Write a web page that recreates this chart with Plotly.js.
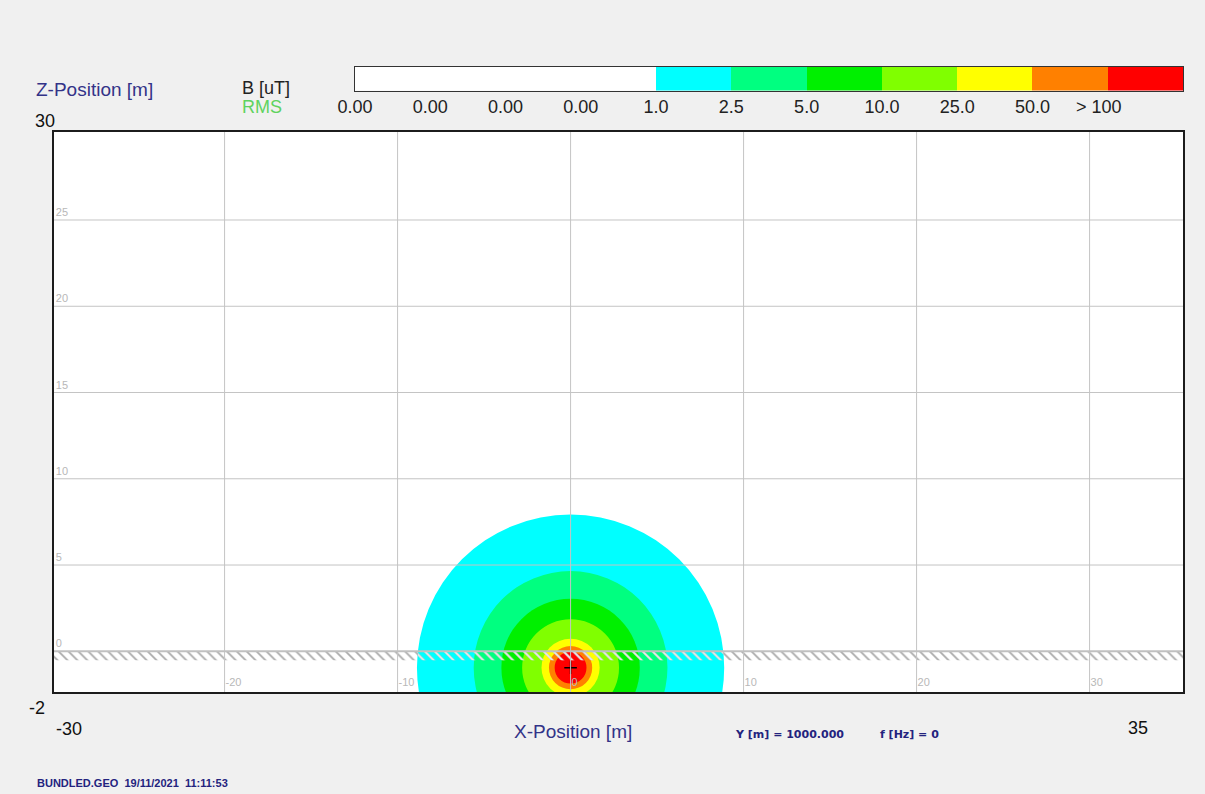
<!DOCTYPE html>
<html>
<head>
<meta charset="utf-8">
<script src="https://cdn.plot.ly/plotly-3.0.1.min.js"></script>
<style>html,body{margin:0;padding:0;background:#f0f0f0;}#chart{width:1205px;height:794px;}</style>
</head>
<body>
<div id="chart"></div>
<script>
// ---- data ----
const xTicks = [-20, -10, 0, 10, 20, 30];
const xTickText = ['-20', '-10', '0', '10', '20', '30'];
const zTicks = [0, 5, 10, 15, 20, 25];
const gridX = [-20, -10, 0, 10, 20, 30];
const gridZ = [5, 10, 15, 20, 25];
const groundZ = [0];
const conductorX = [0];
const conductorZ = [-0.95];
const levelValues = [1.0, 2.5, 5.0, 10.0, 25.0, 50.0, 100.0];   // B [uT] thresholds
const contourRadii = [8.88, 5.6, 4.0, 2.8, 1.68, 1.25, 0.92];   // radius [m] of each iso-field boundary
const scaleLabels = ['0.00', '0.00', '0.00', '0.00', '1.0', '2.5', '5.0', '10.0', '25.0', '50.0', '> 100'];
const scaleColors = ['#ffffff', '#ffffff', '#ffffff', '#ffffff', '#00ffff', '#00ff80', '#00f000', '#80ff00', '#ffff00', '#ff8000', '#ff0000'];
const levelColors = scaleColors.slice(4);

// ---- layout helpers (pixel -> paper) ----
const W = 1205, H = 794;
const M = {l: 54, r: 22, t: 60, b: 102};
const pw = W - M.l - M.r, ph = H - M.t - M.b;
const PX = x => (x - M.l) / pw;
const PY = y => (H - M.b - y) / ph;

const xRange = [-29.86, 35.40];
const zRange = [-2.36, 30.10];
const hatchDepth = -0.52;

// colour scale bar
const idx = scaleLabels.map((_, i) => i);
const cs = [];
scaleColors.forEach((c, i) => { cs.push([i / scaleColors.length, c]); cs.push([(i + 1) / scaleColors.length, c]); });

const cx = conductorX[0], cz = conductorZ[0];
const outerHalf = Math.sqrt(contourRadii[0] * contourRadii[0] - cz * cz);

function hatch(x0, x1, color) {
  return {
    type: 'scatter', mode: 'lines',
    x: [x0, x1, x1, x0, x0],
    y: [0, 0, hatchDepth, hatchDepth, 0],
    fill: 'toself', fillcolor: 'rgba(0,0,0,0)',
    fillpattern: {shape: '\\', size: 7, solidity: 0.25, fgcolor: color, bgcolor: 'rgba(0,0,0,0)'},
    line: {width: 0}, hoverinfo: 'skip', showlegend: false, xaxis: 'x', yaxis: 'y'
  };
}

const traces = [
  hatch(xRange[0], xRange[1], '#a8a8a8'),
  hatch(cx - outerHalf, cx + outerHalf, '#eeeeee'),
  {
    type: 'scatter', mode: 'markers', x: conductorX, y: conductorZ,
    marker: {symbol: 'cross-thin', size: 9, line: {color: '#000000', width: 1.5}},
    showlegend: false, xaxis: 'x', yaxis: 'y'
  },
  {
    type: 'heatmap', x: idx, y: [0], z: [idx], zmin: -0.5, zmax: scaleLabels.length - 0.5,
    colorscale: cs, showscale: false, hoverinfo: 'skip', xaxis: 'x2', yaxis: 'y2'
  }
];

const shapes = [];
contourRadii.forEach((r, i) => {
  shapes.push({type: 'circle', xref: 'x', yref: 'y', x0: cx - r, x1: cx + r, y0: cz - r, y1: cz + r,
    fillcolor: levelColors[i], line: {width: 0}, layer: 'below'});
});
gridX.forEach(v => shapes.push({type: 'line', xref: 'x', yref: 'y domain', x0: v, x1: v, y0: 0, y1: 1,
  line: {color: '#c4c4c4', width: 1}, layer: 'above'}));
gridZ.forEach(v => shapes.push({type: 'line', xref: 'x domain', yref: 'y', x0: 0, x1: 1, y0: v, y1: v,
  line: {color: '#c4c4c4', width: 1}, layer: 'above'}));
groundZ.forEach(v => shapes.push({type: 'line', xref: 'x domain', yref: 'y', x0: 0, x1: 1, y0: v, y1: v,
  line: {color: '#c0c0c0', width: 2}, layer: 'above'}));

const blue = '#333388';
const navy = '#23237e';
function ann(text, x, y, size, color, extra) {
  return Object.assign({text: text, xref: 'paper', yref: 'paper', x: PX(x), y: PY(y),
    xanchor: 'left', yanchor: 'middle', showarrow: false,
    font: {size: size, color: color, family: 'Liberation Sans, Arial, sans-serif'}}, extra || {});
}
const annotations = [
  ann('Z-Position [m]', 34, 89, 19, blue),
  ann('30', 33, 121, 18, '#111111'),
  ann('B [uT]', 240, 88, 18, '#222222'),
  ann('RMS', 240, 107, 18, '#5fd35f'),
  ann('-2', 27, 708, 18, '#111111'),
  ann('-30', 54, 729, 18, '#111111'),
  ann('35', 1126, 728, 18, '#111111'),
  ann('X-Position [m]', 512, 731, 19, blue),
  ann('Y [m] = 1000.000', 733, 734, 11, navy, {font: {size: 11, color: navy, family: 'DejaVu Sans', weight: 'bold'}}),
  ann('f [Hz] = 0', 878, 734, 11, navy, {font: {size: 11, color: navy, family: 'DejaVu Sans', weight: 'bold'}}),
  ann('BUNDLED.GEO  19/11/2021  11:11:53', 35, 783, 11, navy, {font: {size: 11, color: navy, family: 'Liberation Sans, Arial', weight: 'bold'}})
];

const tickFont = {size: 11, color: '#b8b8b8', family: 'Liberation Sans, Arial, sans-serif'};
const layout = {
  width: W, height: H, margin: M,
  paper_bgcolor: '#f0f0f0', plot_bgcolor: '#ffffff',
  showlegend: false,
  font: {family: 'Liberation Sans, Arial, sans-serif'},
  xaxis: {domain: [0, 1], range: xRange, anchor: 'y', tickvals: xTicks, ticktext: xTickText, ticks: '',
    ticklabelposition: 'inside right', tickfont: tickFont,
    showgrid: false, zeroline: false, showline: true, mirror: true, linecolor: '#1c1c1c', linewidth: 2},
  yaxis: {domain: [0, PY(132)], range: zRange, anchor: 'x', tickvals: zTicks, ticks: '',
    ticklabelposition: 'inside top', tickfont: tickFont,
    showgrid: false, zeroline: false, showline: true, mirror: true, linecolor: '#1c1c1c', linewidth: 2},
  xaxis2: {domain: [PX(355), 1], range: [-0.5, scaleLabels.length - 0.5], anchor: 'y2',
    tickvals: idx.map(i => i < scaleLabels.length - 1 ? i - 0.5 : i - 0.62), ticktext: scaleLabels,
    ticks: '', tickfont: {size: 18, color: '#222222'},
    showgrid: false, zeroline: false, showline: true, mirror: true, linecolor: '#333333', linewidth: 1},
  yaxis2: {domain: [PY(90.5), PY(67)], range: [-0.5, 0.5], anchor: 'x2', showticklabels: false, ticks: '',
    showgrid: false, zeroline: false, showline: true, mirror: true, linecolor: '#333333', linewidth: 1},
  shapes: shapes,
  annotations: annotations
};

Plotly.newPlot('chart', traces, layout, {staticPlot: true});
</script>
</body>
</html>
